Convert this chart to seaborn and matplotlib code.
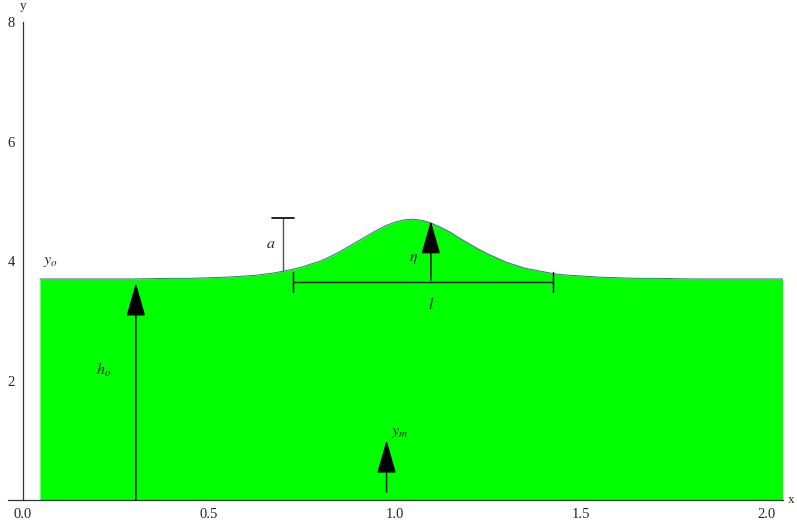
"""
Soliton sketch: free surface over still water depth, with the annotations
a (amplitude), eta, l (width), h_o, y_o and y_m.
"""
import matplotlib
matplotlib.use("Agg")
import matplotlib.pyplot as plt
import seaborn as sns
import pandas as pd

# surface profile (x, y)
surface_x = [0.046, 0.1, 0.2, 0.3, 0.4, 0.45, 0.5, 0.55, 0.575, 0.6, 0.625,
             0.65, 0.675, 0.7, 0.725, 0.75, 0.775, 0.8, 0.825, 0.85, 0.875,
             0.9, 0.925, 0.95, 0.975, 1.0, 1.025, 1.05, 1.075, 1.1, 1.125,
             1.15, 1.175, 1.2, 1.225, 1.25, 1.275, 1.3, 1.325, 1.35, 1.375,
             1.4, 1.425, 1.45, 1.475, 1.5, 1.55, 1.6, 1.65, 1.7, 1.8, 1.9,
             2.0, 2.043]
surface_y = [3.70, 3.70, 3.70, 3.70, 3.71, 3.71, 3.72, 3.73, 3.74, 3.75, 3.76,
             3.78, 3.80, 3.83, 3.86, 3.90, 3.95, 4.00, 4.07, 4.15, 4.24,
             4.33, 4.42, 4.51, 4.59, 4.65, 4.69, 4.70, 4.68, 4.63, 4.56,
             4.48, 4.38, 4.29, 4.20, 4.12, 4.05, 3.98, 3.93, 3.88, 3.85,
             3.82, 3.79, 3.77, 3.76, 3.75, 3.73, 3.72, 3.71, 3.71, 3.70, 3.70,
             3.70, 3.70]

# annotation values
h_o_x, h_o_top = 0.304, 3.63
a_x, a_bottom, a_top = 0.699, 3.83, 4.72
eta_x, eta_bottom, eta_top = 1.097, 3.68, 4.67
l_y, l_left, l_right = 3.65, 0.726, 1.425
y_m_x, y_m_bottom, y_m_top = 0.978, 0.13, 1.0

x_ticks = [0.0, 0.5, 1.0, 1.5, 2.0]
x_tick_labels = ["0.0", "0.5", "1.0", "1.5", "2.0"]
y_ticks = [2, 4, 6, 8]
y_tick_labels = ["2", "4", "6", "8"]

sns.set_style("white")
plt.rcParams["font.family"] = ["Liberation Serif", "DejaVu Serif"]
plt.rcParams["mathtext.fontset"] = "stix"

df = pd.DataFrame({"x": surface_x, "y": surface_y})

fig = plt.figure(figsize=(7.97, 5.24), dpi=100)
ax = fig.add_axes([0.010, 0.0458, 0.972, 0.9122])

ax.fill_between(df["x"], 0, df["y"], color="#00ff00", lw=0, zorder=1)
sns.lineplot(data=df, x="x", y="y", ax=ax, color="#5a5aa8", lw=0.7,
             sort=False, zorder=2)

axis_col = "#333333"
ax.set_xlim(-0.04, 2.043)
ax.set_ylim(0, 8)
for side in ["top", "right"]:
    ax.spines[side].set_visible(False)
ax.spines["left"].set_position(("data", 0))
ax.spines["left"].set_color(axis_col)
ax.spines["bottom"].set_color(axis_col)
ax.spines["left"].set_linewidth(0.9)
ax.spines["bottom"].set_linewidth(0.9)

ax.set_xticks(x_ticks)
ax.set_xticklabels(x_tick_labels)
ax.set_yticks(y_ticks)
ax.set_yticklabels(y_tick_labels)
ax.set_xticks([v / 10 for v in range(1, 21) if v % 5], minor=True)
ax.set_yticks([v / 2 for v in range(1, 16) if v % 4], minor=True)
ax.tick_params(which="major", direction="in", length=4.5, width=0.8,
               color=axis_col, labelsize=10.5, pad=6)
ax.tick_params(which="minor", direction="in", length=2.3, width=0.6,
               color=axis_col)
ax.set_xlabel("")
ax.set_ylabel("")
ax.grid(False)

# axis names
ax.text(0.0, 8.26, "y", ha="center", va="center", fontsize=9.5)
ax.text(2.058, 0.0, "x", ha="left", va="center", fontsize=9.5, clip_on=False)

arrow_kw = dict(arrowstyle="-|>,head_length=1.05,head_width=0.3",
                color="black", lw=1.0, shrinkA=0, shrinkB=0,
                mutation_scale=20)

# h_o arrow
ax.annotate("", xy=(h_o_x, h_o_top), xytext=(h_o_x, 0), arrowprops=arrow_kw)
ax.text(0.218, 2.18, r"$h_o$", ha="center", va="center", fontsize=11.5)

# y_o label
ax.text(0.073, 4.0, r"$y_o$", ha="center", va="center", fontsize=11.5)

# a bar
ax.plot([a_x, a_x], [a_bottom, a_top], color="#555555", lw=1.0)
ax.plot([a_x - 0.03, a_x + 0.03], [a_top, a_top], color="black", lw=1.2)
ax.text(0.667, 4.28, r"$a$", ha="center", va="center", fontsize=11.5)

# eta arrow
ax.annotate("", xy=(eta_x, eta_top), xytext=(eta_x, eta_bottom),
            arrowprops=arrow_kw)
ax.text(1.051, 4.05, r"$\eta$", ha="center", va="center", fontsize=11.5)

# l bar
ax.plot([l_left, l_right], [l_y, l_y], color="black", lw=1.0)
for xx in [l_left, l_right]:
    ax.plot([xx, xx], [3.48, 3.82], color="black", lw=1.0)
ax.text(1.097, 3.26, r"$l$", ha="center", va="center", fontsize=11.5)

# y_m arrow
ax.annotate("", xy=(y_m_x, y_m_top), xytext=(y_m_x, y_m_bottom),
            arrowprops=arrow_kw)
ax.text(1.013, 1.14, r"$y_m$", ha="center", va="center", fontsize=11.5)

fig.savefig("out.png", dpi=100)
